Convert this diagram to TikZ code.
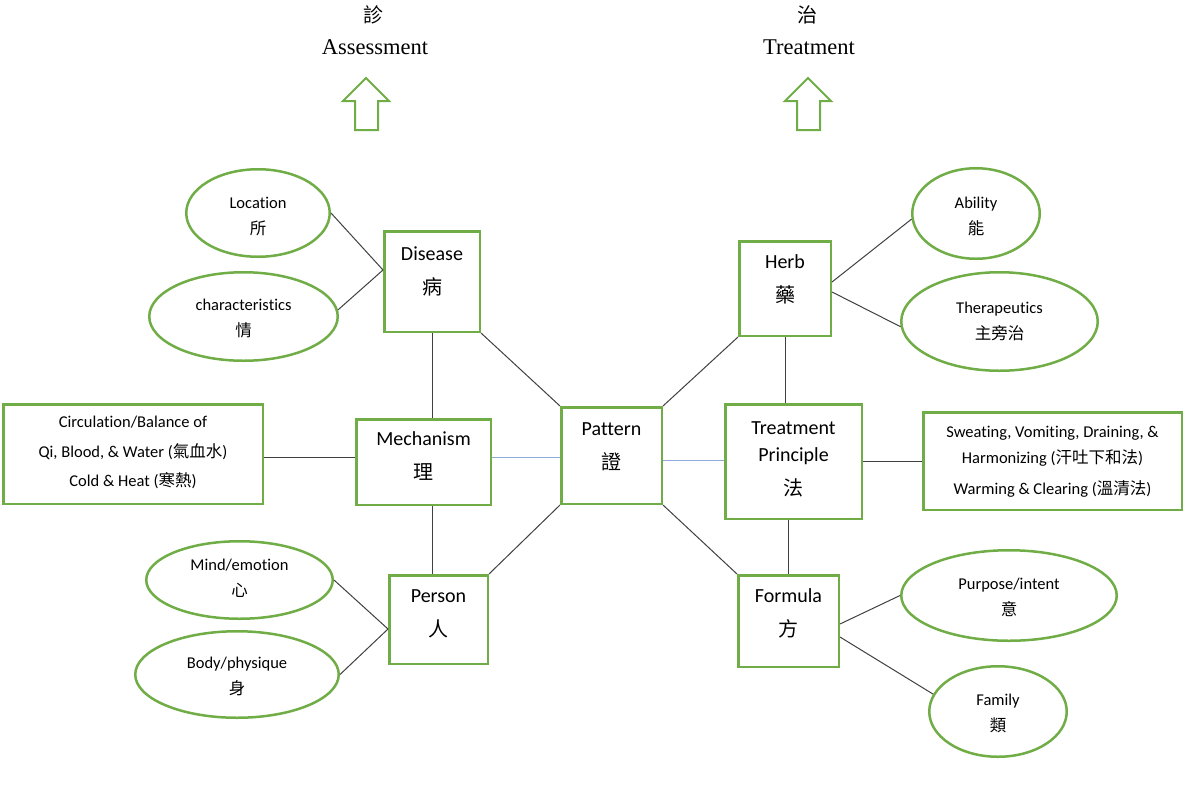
\documentclass[tikz,border=0pt]{standalone}
\usepackage{fontspec}
\setmainfont{Carlito}[Ligatures={NoCommon}]
\newfontfamily\cjk{Noto Sans CJK TC}
\newfontfamily\serifhead{Liberation Serif}
\usetikzlibrary{shapes.geometric,calc}
\definecolor{boxgreen}{HTML}{70AD47}
\definecolor{conngray}{HTML}{404040}
\definecolor{connblue}{HTML}{8FAADC}
\tikzset{
  box/.style={draw=boxgreen, line width=2.5pt, rectangle, inner sep=0pt, fill=white},
  oval/.style={draw=boxgreen, line width=2.5pt, ellipse, inner sep=0pt},
  olbl/.style={align=center, font=\fontsize{16.5}{26}\selectfont, inner sep=0pt},
  blbl/.style={align=center, font=\fontsize{20}{34}\selectfont, inner sep=0pt},
  conn/.style={draw=conngray, line width=1pt},
  bconn/.style={draw=connblue, line width=1pt},
  hollowarrow/.style={draw=boxgreen, line width=2pt, fill=white},
  head/.style={font=\serifhead\fontsize{22.5}{26}\selectfont, inner sep=0pt},
  headcjk/.style={font=\cjk\fontsize{20}{24}\selectfont, inner sep=0pt}
}
\begin{document}
\begin{tikzpicture}[x=1pt,y=-1pt]
\useasboundingbox (0,0) rectangle (1188,801);

% headings
\node[headcjk] (h1c) at (373,15) {診};
\node[head] (h1) at (375,47) {Assessment};
\node[headcjk] (h2c) at (807,15) {治};
\node[head] (h2) at (809,47) {Treatment};

% hollow arrows
\draw[hollowarrow] (366,78) -- (389,101) -- (378,101) -- (378,130) -- (355,130) -- (355,101) -- (343,101) -- cycle;
\draw[hollowarrow] (808,78) -- (831,101) -- (820,101) -- (820,130) -- (797,130) -- (797,101) -- (785,101) -- cycle;

% boxes
\node[box, minimum width=95.5, minimum height=100.5,
  label={[blbl, yshift=10.5pt]center:{Disease\\{\cjk 病}}}] (dis) at (432,281.5) {};
\node[box, minimum width=134.5, minimum height=85.5,
  label={[blbl, yshift=5.5pt]center:{Mechanism\\{\cjk 理}}}] (mech) at (423.5,462) {};
\node[box, minimum width=98.5, minimum height=88.5,
  label={[blbl, yshift=6pt]center:{Person\\{\cjk 人}}}] (per) at (438.5,619.5) {};
\node[box, minimum width=100.5, minimum height=96.5,
  label={[blbl, yshift=9pt]center:{Pattern\\{\cjk 證}}}] (pat) at (611.5,455.5) {};
\node[box, minimum width=91.5, minimum height=94.5,
  label={[blbl, yshift=9pt]center:{Herb\\{\cjk 藥}}}] (herb) at (785,288.5) {};
\node[box, minimum width=136.5, minimum height=114.5,
  label={[blbl, yshift=2pt, font=\fontsize{20}{27}\selectfont]center:{Treatment\\Principle\\[7pt]{\cjk 法}}}] (tp) at (793.5,461.5) {};
\node[box, minimum width=100.5, minimum height=91.5,
  label={[blbl, yshift=8pt]center:{Formula\\{\cjk 方}}}] (form) at (788.5,621) {};
\node[box, minimum width=259.5, minimum height=99.5,
  label={[blbl, yshift=1.5pt, font=\fontsize{16.5}{29.5}\selectfont]center:{Circulation/Balance of\\Qi, Blood, \& Water ({\cjk 氣血水})\\Cold \& Heat ({\cjk 寒熱})}}] (lbox) at (133,454) {};
\node[box, minimum width=258.5, minimum height=97.5,
  label={[blbl, yshift=-1pt, font=\fontsize{16.5}{26}\selectfont]center:{Sweating, Vomiting, Draining, \&\\Harmonizing ({\cjk 汗吐下和法})\\[5pt]Warming \& Clearing ({\cjk 溫清法})}}] (rbox) at (1052.5,461) {};

% ellipses
\node[oval, minimum width=143.5, minimum height=87.5,
  label={[olbl, yshift=-3pt]center:{Location\\{\cjk 所}}}] (loc) at (258,213) {};
\node[oval, minimum width=188.5, minimum height=88.5,
  label={[olbl, yshift=-2.5pt]center:{characteristics\\{\cjk 情}}}] (chr) at (243.5,316.5) {};
\node[oval, minimum width=127.5, minimum height=90.5,
  label={[olbl, yshift=-3pt]center:{Ability\\{\cjk 能}}}] (abil) at (976,213.5) {};
\node[oval, minimum width=196.5, minimum height=98.5,
  label={[olbl, yshift=0.5pt]center:{Therapeutics\\{\cjk 主旁治}}}] (ther) at (999.5,321.5) {};
\node[oval, minimum width=186.5, minimum height=77.5,
  label={[olbl, yshift=1.5pt]center:{Mind/emotion\\{\cjk 心}}}] (mind) at (239.5,580) {};
\node[oval, minimum width=203.5, minimum height=86.5,
  label={[olbl, yshift=-2pt]center:{Body/physique\\{\cjk 身}}}] (body) at (237,674.5) {};
\node[oval, minimum width=215.5, minimum height=90.5,
  label={[olbl, yshift=-2pt]center:{Purpose/intent\\{\cjk 意}}}] (purp) at (1009,595.5) {};
\node[oval, minimum width=137.5, minimum height=90.5,
  label={[olbl, yshift=-1.5pt]center:{Family\\{\cjk 類}}}] (fam) at (998,711.5) {};

% connectors
\draw[conn] (loc.east) -- ([yshift=11.5pt]dis.west);
\draw[conn] (chr.4) -- ([yshift=11.5pt]dis.west);
\draw[conn] (dis.south) -- (dis.south |- mech.north);
\draw[conn] (dis.south east) -- (pat.north west);
\draw[conn] ([yshift=5pt]mech.west) -- ([yshift=5pt]mech.west -| lbox.east);
\draw[bconn] ([yshift=5pt]mech.east) -- ([yshift=5pt]mech.east -| pat.west);
\draw[conn] (mech.south -| dis.south) -- (per.north -| dis.south);
\draw[conn] (per.north east) -- (pat.south west);
\draw[conn] (mind.east) -- ([yshift=-9.5pt]per.west);
\draw[conn] (body.east) -- ([yshift=-9.5pt]per.west);
\draw[bconn] ([yshift=-4.5pt]pat.east) -- ([yshift=-4.5pt]pat.east -| tp.west);
\draw[conn] (pat.north east) -- (herb.south west);
\draw[conn] (herb.south) -- (herb.south |- tp.north);
\draw[conn] ([yshift=6.5pt]herb.east) -- (abil.185);
\draw[conn] ([yshift=-3.5pt]herb.east) -- (ther.183);
\draw[conn] (tp.east) -- (tp.east -| rbox.west);
\draw[conn] (form.north) -- (form.north |- tp.south);
\draw[conn] (pat.south east) -- (form.north west);
\draw[conn] ([yshift=-3pt]form.east) -- (purp.west);
\draw[conn] ([yshift=-16pt]form.east) -- (fam.165);
\end{tikzpicture}
\end{document}
